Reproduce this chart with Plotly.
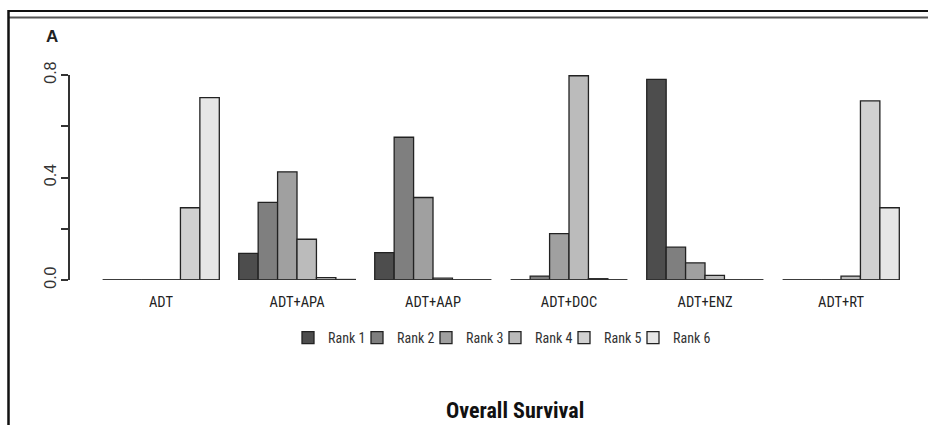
import plotly.graph_objects as go

treatments = ["ADT", "ADT+APA", "ADT+AAP", "ADT+DOC", "ADT+ENZ", "ADT+RT"]
rank_names = ["Rank 1", "Rank 2", "Rank 3", "Rank 4", "Rank 5", "Rank 6"]
rank_colors = ["#4D4D4D", "#7F7F7F", "#A0A0A0", "#BBBBBB", "#D1D1D1", "#E6E6E6"]

# probability of each rank, per treatment (rows: ranks, cols: treatments)
rank1 = [0.000, 0.104, 0.107, 0.000, 0.783, 0.000]
rank2 = [0.000, 0.303, 0.557, 0.015, 0.128, 0.000]
rank3 = [0.000, 0.422, 0.322, 0.181, 0.067, 0.000]
rank4 = [0.000, 0.159, 0.007, 0.797, 0.018, 0.015]
rank5 = [0.282, 0.009, 0.000, 0.005, 0.000, 0.699]
rank6 = [0.712, 0.002, 0.000, 0.000, 0.000, 0.282]
ranks = [rank1, rank2, rank3, rank4, rank5, rank6]

y_tickvals = [0.0, 0.2, 0.4, 0.6, 0.8]
y_ticktext = ["0.0", "", "0.4", "", "0.8"]

NARROW = "Liberation Sans Narrow, Arial Narrow, Roboto Condensed, Liberation Sans, sans-serif"

n_r = len(rank_names)
gstep = n_r + 1  # one bar-width space before each group (R barplot beside=TRUE)

fig = go.Figure()

# baseline segment under each group (R draws zero-height bars as lines)
bx, by = [], []
for g in range(len(treatments)):
    bx += [g * gstep + 1, g * gstep + 1 + n_r, None]
    by += [0, 0, None]
fig.add_trace(go.Scatter(x=bx, y=by, mode="lines", line=dict(color="#333333", width=1.5),
                         showlegend=False, hoverinfo="skip"))

for r in range(n_r):
    xs = [g * gstep + 1 + r + 0.5 for g in range(len(treatments))]
    fig.add_trace(go.Bar(
        x=xs, y=ranks[r], width=1, name=rank_names[r],
        marker=dict(color=rank_colors[r], line=dict(color="#222222", width=1.3)),
    ))

# empty legend spacer so the last legend label is not clipped
fig.add_trace(go.Bar(x=[None], y=[None], name=" ", hoverinfo="skip",
                     marker=dict(color="rgba(0,0,0,0)", line=dict(width=0))))

W, H = 928, 425
ml, mr, mt, mb = 70, 0, 75, 145
pw, ph = W - ml - mr, H - mt - mb
x0_px = 83.3
unit = 136 / 7.0
xr = [(ml - x0_px) / unit, (W - x0_px) / unit]

def px_x(p):
    return (p - ml) / pw

def px_y(p):
    return (H - mb - p) / ph

fig.update_layout(
    width=W, height=H,
    margin=dict(l=ml, r=mr, t=mt, b=mb, pad=0),
    paper_bgcolor="white", plot_bgcolor="white",
    barmode="overlay",
    showlegend=True,
    legend=dict(orientation="h", x=px_x(288), xanchor="left", y=px_y(338), yanchor="middle",
                font=dict(family=NARROW, size=14, color="#333333"),
                entrywidth=24, traceorder="normal", itemwidth=30),
    xaxis=dict(range=xr, tickvals=[g * gstep + 1 + n_r / 2 for g in range(len(treatments))],
               ticktext=treatments, showline=False, showgrid=False, zeroline=False, ticks="",
               tickfont=dict(family=NARROW, size=14.5, color="#222222"), ticklabelstandoff=11),
    yaxis=dict(range=[0, 0.8], tickvals=y_tickvals, ticktext=y_ticktext, showline=True,
               linecolor="#333333", linewidth=1.5, ticks="outside", ticklen=7, tickwidth=1.5,
               tickcolor="#333333", showgrid=False, zeroline=False, tickangle=-90,
               ticklabelstandoff=-1,
               tickfont=dict(family="Liberation Sans, Arial, sans-serif", size=16, color="#333333")),
    shapes=[
        dict(type="line", xref="paper", yref="paper", x0=px_x(8), x1=px_x(928), y0=px_y(11), y1=px_y(11),
             line=dict(color="#111111", width=2)),
        dict(type="line", xref="paper", yref="paper", x0=px_x(8), x1=px_x(928), y0=px_y(17.5), y1=px_y(17.5),
             line=dict(color="#555555", width=2)),
        dict(type="line", xref="paper", yref="paper", x0=px_x(8.5), x1=px_x(8.5), y0=px_y(10), y1=px_y(425),
             line=dict(color="#111111", width=2.5)),
    ],
    annotations=[
        dict(text="<b>A</b>", xref="paper", yref="paper", x=px_x(52), y=px_y(36), showarrow=False,
             xanchor="center", yanchor="middle", font=dict(family="Liberation Sans, Arial, sans-serif", size=17, color="#222222")),
        dict(text="<b>Overall Survival</b>", xref="paper", yref="paper", x=px_x(515), y=px_y(410), showarrow=False,
             xanchor="center", yanchor="middle", font=dict(family=NARROW, size=22, color="#111111")),
    ],
)

fig.write_html("out.html")
